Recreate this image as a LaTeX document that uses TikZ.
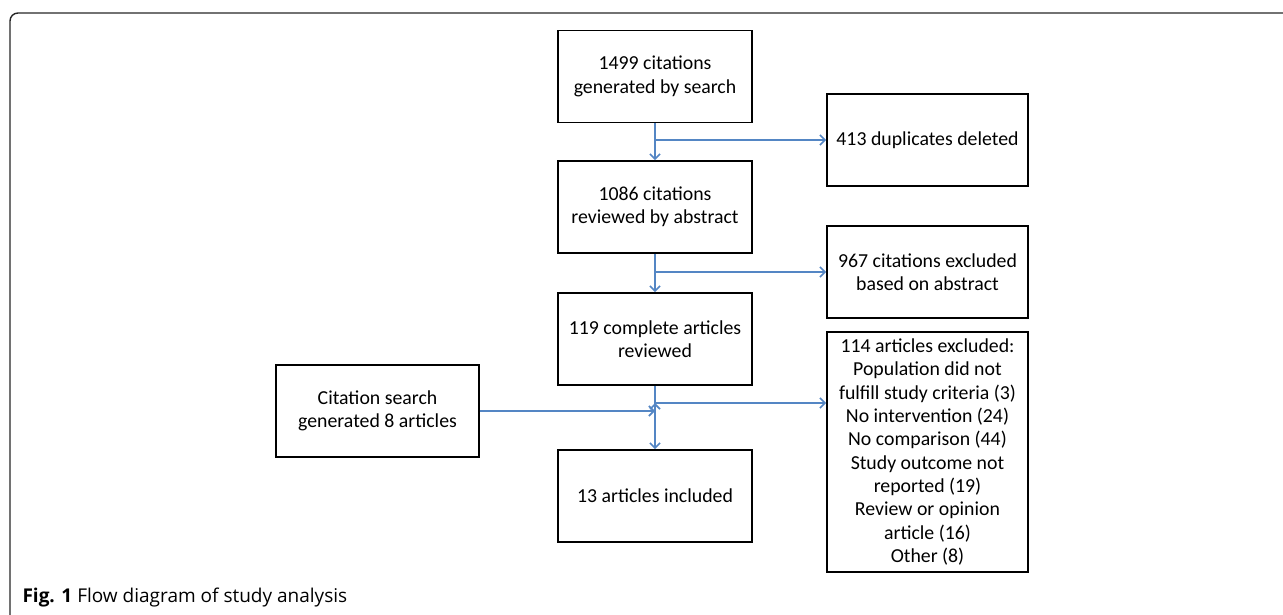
\documentclass[tikz,border=0pt]{standalone}
\usepackage{fontspec}
\setmainfont{Carlito}
\newfontfamily\capfont{Open Sans}
\usetikzlibrary{arrows.meta}
\definecolor{flowblue}{RGB}{84,134,196}

\begin{document}
\begin{tikzpicture}[x=1pt,y=-1pt,>={Straight Barb[length=5pt,width=10pt]},
                flow/.style={->,draw=flowblue,line width=1.6pt},
                main node/.style={rectangle,draw,line width=1.8pt,align=center,
                  minimum width=194pt,minimum height=92pt,inner sep=2pt,
                  font=\fontsize{19.8}{23.3}\selectfont},
                side node/.style={main node,minimum width=201pt}]

  \useasboundingbox (0,0) rectangle (1283,615);
  \draw[line width=1.4pt,black!85,rounded corners=8pt] (10,616) -- (10,13) -- (1284,13);

  \node[main node] (1) at (655,76.5) {1499 citations\\generated by search};
  \node[main node] (2) at (655,207) {1086 citations\\reviewed by abstract};
  \node[main node] (3) at (655,339) {119 complete articles\\reviewed};
  \node[main node] (4) at (655,496) {13 articles included};

  \node[side node] (dup) at (927.5,140) {413 duplicates deleted};
  \node[side node] (abs) at (927.5,272) {967 citations excluded\\based on abstract};
  \node[side node,minimum height=240pt] (excl) at (927.5,452)
    {114 articles excluded:\\Population did not\\fulfill study criteria (3)\\
     No intervention (24)\\No comparison (44)\\Study outcome not\\reported (19)\\
     Review or opinion\\article (16)\\Other (8)};
  \node[main node,minimum width=203pt] (cit) at (377.5,411)
    {Citation search\\generated 8 articles};

  \coordinate (split) at (655,403);

  \path[flow]
    (1) edge (2)
    (2) edge (3)
    (3) edge (4)
    (1 |- dup) edge (dup)
    (2 |- abs) edge (abs)
    (split) edge (split -| excl.west)
    (cit) edge (cit -| 3);

  \node[anchor=base west,font=\capfont\fontsize{19}{22}\selectfont] (cap) at (19,602)
    {\textbf{Fig. 1} Flow diagram of study analysis};
\end{tikzpicture}
\end{document}
